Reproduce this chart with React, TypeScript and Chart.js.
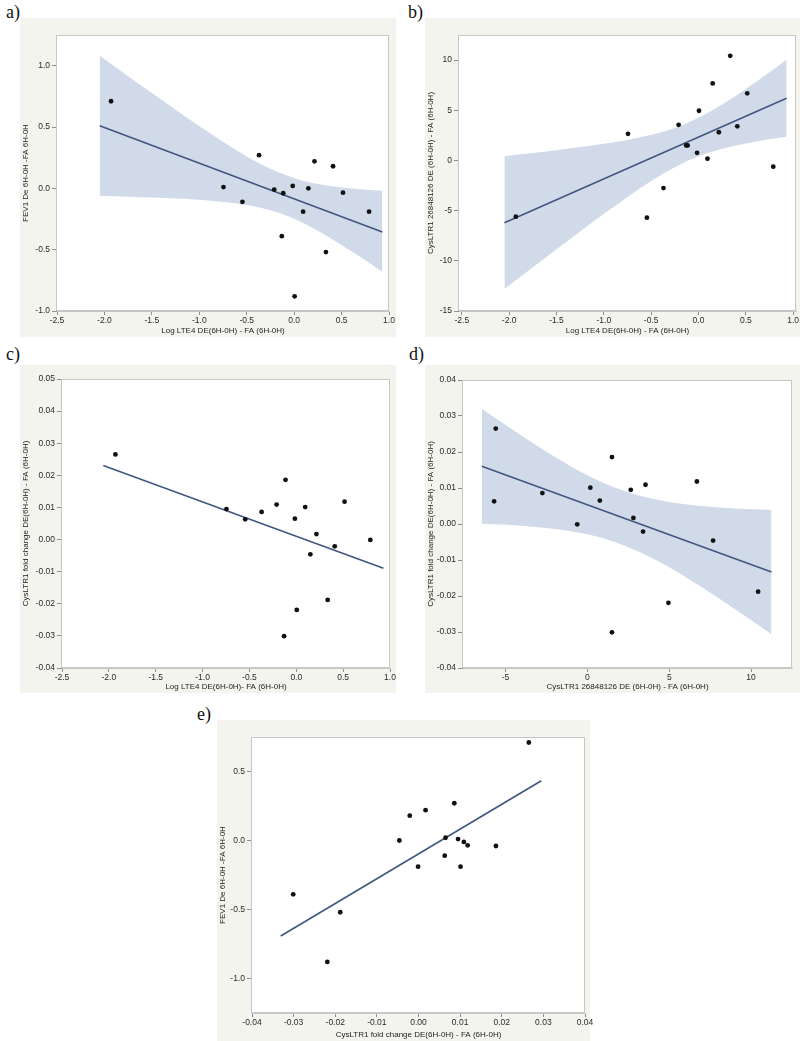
import React, { useEffect, useRef } from 'react';
import { Chart, registerables } from 'chart.js';
Chart.register(...registerables);

// ---- subject-level values (16 subjects) ----
const logLTE4 = [-1.93, -0.745, -0.545, -0.37, -0.21, -0.115, -0.13, -0.015, 0.005, 0.095, 0.15, 0.215, 0.335, 0.41, 0.515, 0.79];
const fev1Change = [0.71, 0.01, -0.11, 0.27, -0.01, -0.04, -0.39, 0.02, -0.88, -0.19, 0.0, 0.22, -0.52, 0.18, -0.035, -0.19];
const cysltr1Probe = [-5.6, 2.65, -5.7, -2.75, 3.55, 1.5, 1.5, 0.76, 4.95, 0.18, 7.68, 2.81, 10.43, 3.4, 6.69, -0.62];
const cysltr1Fold = [0.0265, 0.0095, 0.0063, 0.0086, 0.0109, 0.0186, -0.0301, 0.0065, -0.0219, 0.0101, -0.0046, 0.0017, -0.0188, -0.0021, 0.0118, -0.0001];

// ---- fitted lines ----
const fitA_x = [-2.05, 0.93];
const fitA_y = [0.51, -0.355];
const fitB_x = [-2.05, 0.93];
const fitB_y = [-6.2, 6.2];
const fitC_x = [-2.06, 0.93];
const fitC_y = [0.0231, -0.0089];
const fitD_x = [-6.45, 11.25];
const fitD_y = [0.01605, -0.01336];
const fitE_x = [-0.0331, 0.0295];
const fitE_y = [-0.692, 0.433];

// ---- confidence bands ----
const bandAB_x = [-2.05, -1.75, -1.5, -1.25, -1.0, -0.75, -0.5, -0.25, 0.0, 0.25, 0.5, 0.75, 0.93];
const bandA_upper = [1.081, 0.914, 0.777, 0.641, 0.508, 0.379, 0.26, 0.159, 0.083, 0.035, 0.007, -0.011, -0.02];
const bandA_lower = [-0.061, -0.068, -0.075, -0.083, -0.094, -0.111, -0.136, -0.179, -0.247, -0.345, -0.461, -0.587, -0.682];
const bandB_upper = [0.42, 0.74, 1.02, 1.33, 1.66, 2.05, 2.55, 3.24, 4.25, 5.57, 7.12, 8.79, 10.03];
const bandB_lower = [-12.82, -10.64, -8.85, -7.07, -5.32, -3.63, -2.05, -0.67, 0.41, 1.17, 1.7, 2.11, 2.36];
const bandD_x = [-6.45, -5, -3, -1, 1, 3, 5, 7, 9, 11.25];
const bandD_upper = [0.032, 0.0275, 0.0215, 0.016, 0.0114, 0.0081, 0.0061, 0.005, 0.0043, 0.0039];
const bandD_lower = [0.0001, -0.0002, -0.0009, -0.002, -0.004, -0.0074, -0.012, -0.0176, -0.0236, -0.0306];

// ---- tick labels ----
const ticksLTE = [-2.5, -2.0, -1.5, -1.0, -0.5, 0.0, 0.5, 1.0];
const ticksFEV_a = [-1.0, -0.5, 0.0, 0.5, 1.0];
const ticksProbe_b = [-15, -10, -5, 0, 5, 10];
const ticksFold_c = [-0.04, -0.03, -0.02, -0.01, 0.0, 0.01, 0.02, 0.03, 0.04, 0.05];
const ticksFold_d = [-0.04, -0.03, -0.02, -0.01, 0.0, 0.01, 0.02, 0.03, 0.04];
const ticksProbe_d = [-5, 0, 5, 10];
const ticksFold_e = [-0.04, -0.03, -0.02, -0.01, 0.0, 0.01, 0.02, 0.03, 0.04];
const ticksFEV_e = [-1.0, -0.5, 0.0, 0.5];

const titleLTE = 'Log LTE4 DE(6H-0H) - FA (6H-0H)';
const titleLTE_c = 'Log LTE4 DE(6H-0H)- FA (6H-0H)';
const titleFEV = 'FEV1 De 6H-0H -FA 6H-0H';
const titleProbe = 'CysLTR1 26848126 DE (6H-0H) - FA (6H-0H)';
const titleFold = 'CysLTR1 fold change DE(6H-0H) - FA (6H-0H)';

const CREAM = '#f4f4ef';
const BAND = 'rgba(207,216,232,0.95)';
const LINE = '#41577f';
const FONT = '"Liberation Sans", Arial, sans-serif';
const OVERHANG = 8;

type Box = { left: number; top: number; right: number; bottom: number };
type Panel = {
  key: string;
  label: string;
  labelPos: { left: number; top: number };
  cream: Box;
  plot: Box;
  xRange: [number, number];
  yRange: [number, number];
  xTicks: number[];
  yTicks: number[];
  xDec: number;
  yDec: number;
  xTitle: string;
  yTitle: string;
  xs: number[];
  ys: number[];
  fitX: number[];
  fitY: number[];
  bandX?: number[];
  bandU?: number[];
  bandL?: number[];
};

const panels: Panel[] = [
  {
    key: 'a', label: 'a)', labelPos: { left: 6, top: 3 },
    cream: { left: 20, top: 18, right: 396, bottom: 337 },
    plot: { left: 57, top: 35, right: 389, bottom: 311 },
    xRange: [-2.5, 1.0], yRange: [-1.0, 1.25],
    xTicks: ticksLTE, yTicks: ticksFEV_a, xDec: 1, yDec: 1,
    xTitle: titleLTE, yTitle: titleFEV,
    xs: logLTE4, ys: fev1Change, fitX: fitA_x, fitY: fitA_y,
    bandX: bandAB_x, bandU: bandA_upper, bandL: bandA_lower,
  },
  {
    key: 'b', label: 'b)', labelPos: { left: 408, top: 3 },
    cream: { left: 425, top: 18, right: 800, bottom: 337 },
    plot: { left: 459, top: 35, right: 796, bottom: 311 },
    xRange: [-2.53, 1.03], yRange: [-15, 12.5],
    xTicks: ticksLTE, yTicks: ticksProbe_b, xDec: 1, yDec: 0,
    xTitle: titleLTE, yTitle: titleProbe,
    xs: logLTE4, ys: cysltr1Probe, fitX: fitB_x, fitY: fitB_y,
    bandX: bandAB_x, bandU: bandB_upper, bandL: bandB_lower,
  },
  {
    key: 'c', label: 'c)', labelPos: { left: 6, top: 345 },
    cream: { left: 20, top: 365, right: 396, bottom: 693 },
    plot: { left: 62, top: 379, right: 390, bottom: 668 },
    xRange: [-2.5, 1.0], yRange: [-0.04, 0.05],
    xTicks: ticksLTE, yTicks: ticksFold_c, xDec: 1, yDec: 2,
    xTitle: titleLTE_c, yTitle: titleFold,
    xs: logLTE4, ys: cysltr1Fold, fitX: fitC_x, fitY: fitC_y,
  },
  {
    key: 'd', label: 'd)', labelPos: { left: 409, top: 345 },
    cream: { left: 425, top: 365, right: 800, bottom: 693 },
    plot: { left: 463, top: 380, right: 792, bottom: 668 },
    xRange: [-7.6, 12.5], yRange: [-0.04, 0.04],
    xTicks: ticksProbe_d, yTicks: ticksFold_d, xDec: 0, yDec: 2,
    xTitle: titleProbe, yTitle: titleFold,
    xs: cysltr1Probe, ys: cysltr1Fold, fitX: fitD_x, fitY: fitD_y,
    bandX: bandD_x, bandU: bandD_upper, bandL: bandD_lower,
  },
  {
    key: 'e', label: 'e)', labelPos: { left: 197, top: 705 },
    cream: { left: 217, top: 720, right: 590, bottom: 1041 },
    plot: { left: 252, top: 737, right: 585, bottom: 1013 },
    xRange: [-0.04, 0.04], yRange: [-1.25, 0.75],
    xTicks: ticksFold_e, yTicks: ticksFEV_e, xDec: 2, yDec: 1,
    xTitle: titleFold, yTitle: titleFEV,
    xs: cysltr1Fold, ys: fev1Change, fitX: fitE_x, fitY: fitE_y,
  },
];

const framePlugin = {
  id: 'frame',
  beforeDatasetsDraw(chart: any) {
    const { ctx, chartArea: a } = chart;
    ctx.save();
    ctx.fillStyle = '#ffffff';
    ctx.fillRect(a.left, a.top, a.right - a.left, a.bottom - a.top);
    ctx.restore();
  },
  afterDraw(chart: any) {
    const { ctx, chartArea: a } = chart;
    ctx.save();
    ctx.strokeStyle = '#c6c6c6';
    ctx.lineWidth = 1;
    ctx.strokeRect(Math.round(a.left) - 0.5, Math.round(a.top) + 0.5, Math.round(a.right - a.left), Math.round(a.bottom - a.top) - 1);
    ctx.restore();
  },
};

function buildChart(canvas: HTMLCanvasElement, p: Panel) {
  const padLeft = 1;
  const padBottom = 1;
  const yWidth = p.plot.left - p.cream.left - padLeft;
  const xHeight = p.cream.bottom - p.plot.bottom - padBottom;

  const datasets: any[] = [
    {
      label: 'subjects',
      data: p.xs.map((x, i) => ({ x, y: p.ys[i] })),
      showLine: false,
      pointRadius: 2.4,
      pointBackgroundColor: '#111111',
      pointBorderWidth: 0,
      borderColor: '#111111',
      borderWidth: 0,
    },
    {
      label: 'fit',
      data: p.fitX.map((x, i) => ({ x, y: p.fitY[i] })),
      showLine: true,
      pointRadius: 0,
      borderColor: LINE,
      borderWidth: 1.6,
      fill: false,
    },
  ];
  if (p.bandX && p.bandU && p.bandL) {
    datasets.push({
      label: 'upper',
      data: p.bandX.map((x, i) => ({ x, y: p.bandU![i] })),
      showLine: true,
      pointRadius: 0,
      borderWidth: 0,
      borderColor: 'rgba(0,0,0,0)',
      backgroundColor: BAND,
      fill: '+1',
      cubicInterpolationMode: 'monotone',
    });
    datasets.push({
      label: 'lower',
      data: p.bandX.map((x, i) => ({ x, y: p.bandL![i] })),
      showLine: true,
      pointRadius: 0,
      borderWidth: 0,
      borderColor: 'rgba(0,0,0,0)',
      fill: false,
      cubicInterpolationMode: 'monotone',
    });
  }

  const tickFont = { family: FONT, size: 8.5 };
  const titleFont = { family: FONT, size: 8 };

  return new Chart(canvas, {
    type: 'line',
    data: { datasets },
    plugins: [framePlugin],
    options: {
      responsive: false,
      animation: false,
      devicePixelRatio: 1,
      layout: {
        padding: {
          left: padLeft,
          top: p.plot.top - p.cream.top,
          right: p.cream.right - p.plot.right + OVERHANG,
          bottom: padBottom,
        },
      },
      plugins: { legend: { display: false }, tooltip: { enabled: false } },
      scales: {
        x: {
          type: 'linear',
          min: p.xRange[0],
          max: p.xRange[1],
          afterBuildTicks: (s: any) => { s.ticks = p.xTicks.map((v) => ({ value: v })); },
          afterFit: (s: any) => { s.height = xHeight; s.paddingLeft = 0; s.paddingRight = 0; },
          ticks: {
            callback: (v: any) => Number(v).toFixed(p.xDec),
            font: tickFont,
            color: '#2a2a2a',
            padding: 1,
            maxRotation: 0,
            autoSkip: false,
          },
          grid: { display: true, drawOnChartArea: false, drawTicks: true, tickLength: 4, color: '#8f8f8f' },
          border: { display: true, color: '#c6c6c6' },
          title: { display: true, text: p.xTitle, font: titleFont, color: '#222222', padding: 0 },
        },
        y: {
          type: 'linear',
          min: p.yRange[0],
          max: p.yRange[1],
          afterBuildTicks: (s: any) => { s.ticks = p.yTicks.map((v) => ({ value: v })); },
          afterFit: (s: any) => { s.width = yWidth; s.paddingTop = 0; s.paddingBottom = 0; },
          ticks: {
            callback: (v: any) => Number(v).toFixed(p.yDec),
            font: tickFont,
            color: '#2a2a2a',
            padding: 2,
            autoSkip: false,
          },
          grid: { display: true, drawOnChartArea: false, drawTicks: true, tickLength: 5, color: '#8f8f8f' },
          border: { display: true, color: '#c6c6c6' },
          title: { display: true, text: p.yTitle, font: titleFont, color: '#222222', padding: 0 },
        },
      },
    } as any,
  });
}

function PanelView({ p }: { p: Panel }) {
  const ref = useRef<HTMLCanvasElement | null>(null);
  useEffect(() => {
    if (!ref.current) return;
    const chart = buildChart(ref.current, p);
    return () => chart.destroy();
  }, [p]);
  const w = p.cream.right - p.cream.left;
  const h = p.cream.bottom - p.cream.top;
  const cw = w + OVERHANG;
  return (
    <>
      <div
        style={{
          position: 'absolute',
          left: p.labelPos.left,
          top: p.labelPos.top,
          fontFamily: '"Liberation Serif", "Times New Roman", serif',
          fontSize: 18,
          lineHeight: '18px',
          color: '#111',
        }}
      >
        {p.label}
      </div>
      <div style={{ position: 'absolute', left: p.cream.left, top: p.cream.top, width: w, height: h, background: CREAM }} />
      <canvas
        ref={ref}
        width={cw}
        height={h}
        style={{ position: 'absolute', left: p.cream.left, top: p.cream.top, display: 'block', width: cw, height: h }}
      />
    </>
  );
}

export default function App() {
  return (
    <div style={{ position: 'absolute', left: 0, top: 0, width: 800, height: 1041, background: '#ffffff', overflow: 'hidden' }}>
      {panels.map((p) => (
        <PanelView key={p.key} p={p} />
      ))}
    </div>
  );
}
